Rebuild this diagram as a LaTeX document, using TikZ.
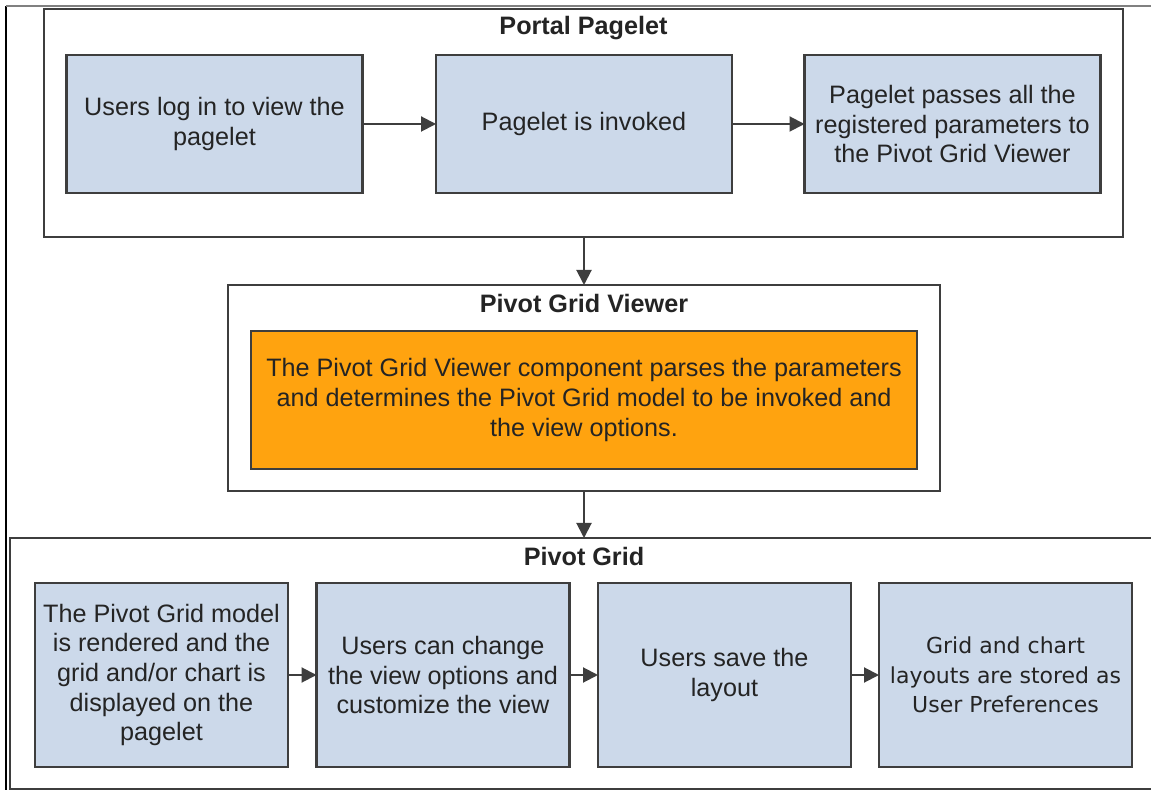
\documentclass[tikz,border=0pt]{standalone}
\usepackage{fontspec}
\setmainfont{Liberation Sans}
\newfontfamily\verdfont{DejaVu Sans}
\usetikzlibrary{arrows.meta}
\definecolor{boxblue}{RGB}{204,217,234}
\definecolor{orng}{RGB}{255,163,15}
\definecolor{edgec}{RGB}{62,62,62}
\definecolor{txtc}{RGB}{36,36,36}
\begin{document}
\begin{tikzpicture}[x=0.5pt,y=-0.5pt,
  container/.style={draw=edgec,line width=1.2pt,fill=white,inner sep=0,outer sep=0},
  stepbox/.style={draw=edgec,line width=1.1pt,fill=boxblue,align=center,text=txtc,inner sep=0,outer sep=0,
     font=\fontsize{12.6}{14.8}\selectfont},
  topbox/.style={stepbox,minimum width=148pt,minimum height=69pt},
  botbox/.style={stepbox,minimum width=126.5pt,minimum height=92pt},
  title/.style={font=\bfseries\fontsize{12.6}{14.8}\selectfont,text=txtc,inner sep=0},
  conn/.style={draw=edgec,line width=1pt,-{Triangle[length=7.5pt,width=7.5pt]}}
]
\clip (0,0) rectangle (1151,790);
\fill[white] (0,0) rectangle (1151,790);
% outer frame lines
\draw[black,line width=0.6pt] (6,6) -- (6,790);
\draw[gray,line width=0.8pt] (6,6) -- (1151,6);

% containers
\node[container,minimum width=539.5pt,minimum height=114pt] (pp) at (583.5,123) {};
\node[title] (ppt) at (583.5,28) {Portal Pagelet};

\node[container,minimum width=356pt,minimum height=103pt] (pgv) at (584,388) {};
\node[title] (pgvt) at (584,303) {Pivot Grid Viewer};

\node[container,minimum width=575pt,minimum height=125.5pt] (pg) at (585,663.5) {};
\node[title] (pgt) at (584,556) {Pivot Grid};

% top row
\node[topbox] (a1) at (214.5,124) {Users log in to view the\\pagelet};
\node[topbox] (a2) at (584,124) {Pagelet is invoked};
\node[topbox] (a3) at (952.5,124) {Pagelet passes all the\\registered parameters to\\the Pivot Grid Viewer};

% orange
\node[stepbox,fill=orng,minimum width=333pt,minimum height=69pt] (ov) at (584,400)
  {The Pivot Grid Viewer component parses the parameters\\and determines the Pivot Grid model to be invoked and\\the view options.};

% bottom row
\node[botbox] (b1) at (161.5,675) {The Pivot Grid model\\is rendered and the\\grid and/or chart is\\displayed on the\\pagelet};
\node[botbox] (b2) at (443,675) {Users can change\\the view options and\\customize the view};
\node[botbox] (b3) at (724.5,675) {Users save the\\layout};
\node[botbox,font=\verdfont\fontsize{11}{14.8}\selectfont] (b4) at (1005.5,675) {Grid and chart\\layouts are stored as\\User Preferences};

% connectors
\draw[conn] (a1) -- (a2);
\draw[conn] (a2) -- (a3);
\draw[conn] (pp.south -| pgv.north) -- (pgv.north);
\draw[conn] (pgv.south) -- (pgv.south |- pg.north);
\draw[conn] (b1) -- (b2);
\draw[conn] (b2) -- (b3);
\draw[conn] (b3) -- (b4);
\end{tikzpicture}
\end{document}
